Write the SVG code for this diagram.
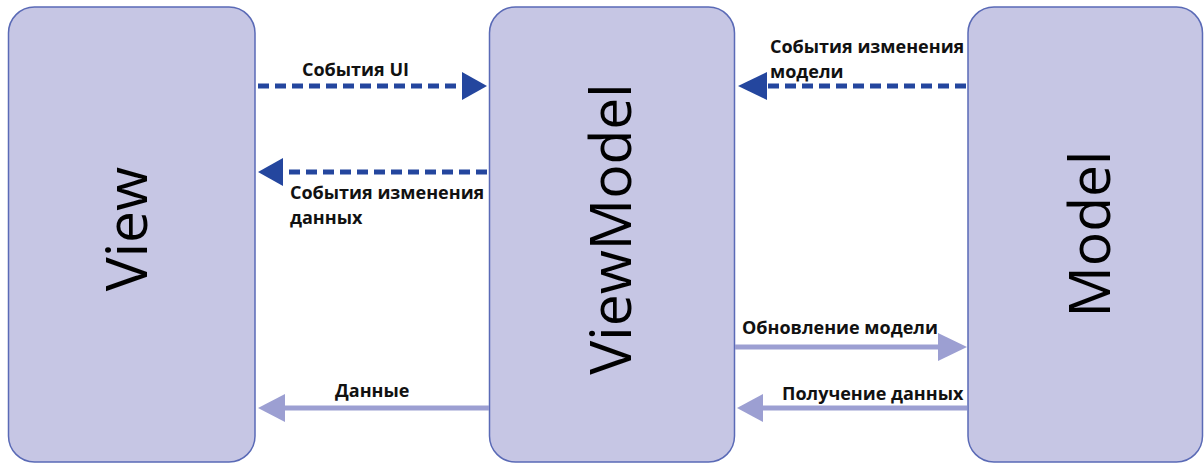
<svg xmlns="http://www.w3.org/2000/svg" width="1204" height="463" viewBox="0 0 1204 463">
  <style>
    .box { fill: #c6c6e4; stroke: #5a6ab6; stroke-width: 1.5; }
    .title { font-family: "Open Sans", "DejaVu Sans", sans-serif; font-size: 57px; fill: #000; text-anchor: middle; }
    .lbl { font-family: "Open Sans", "DejaVu Sans", sans-serif; font-size: 18px; font-weight: bold; fill: #111; }
    .dash { stroke: #24469e; stroke-width: 5; fill: none; stroke-dasharray: 11 6; }
    .solid { stroke: #9c9fd2; stroke-width: 5; fill: none; }
    .hd { fill: #24469e; }
    .hl { fill: #9c9fd2; }
  </style>
  <rect width="1204" height="463" fill="#fff"/>
  <g id="view">
    <rect class="box" x="8.5" y="7" width="246.5" height="455" rx="26"/>
    <text class="title" transform="translate(147,229) rotate(-90)">View</text>
  </g>
  <g id="viewmodel">
    <rect class="box" x="489.5" y="7" width="245" height="455" rx="26"/>
    <text class="title" transform="translate(631,229) rotate(-90)">ViewModel</text>
  </g>
  <g id="model">
    <rect class="box" x="968" y="7" width="234.5" height="455" rx="26"/>
    <text class="title" transform="translate(1110,234) rotate(-90)">Model</text>
  </g>
  <g id="connectors">
    <line class="dash" x1="258" y1="86" x2="464" y2="86"/>
    <polygon class="hd" points="462,72 487,86 462,100"/>
    <text class="lbl" x="302" y="76">События UI</text>

    <line class="dash" x1="487" y1="172" x2="281" y2="172"/>
    <polygon class="hd" points="283,158 258,172 283,186"/>
    <text class="lbl" x="290" y="199">События изменения</text>
    <text class="lbl" x="290" y="224">данных</text>

    <line class="dash" x1="966" y1="86" x2="765" y2="86"/>
    <polygon class="hd" points="767,72 738,86 767,100"/>
    <text class="lbl" x="770" y="53">События изменения</text>
    <text class="lbl" x="770" y="78">модели</text>

    <line class="solid" x1="735" y1="347" x2="940" y2="347"/>
    <polygon class="hl" points="938,333 967,347 938,361"/>
    <text class="lbl" x="742" y="334">Обновление модели</text>

    <line class="solid" x1="967" y1="408" x2="761" y2="408"/>
    <polygon class="hl" points="763,394 737,408 763,422"/>
    <text class="lbl" x="782" y="400">Получение данных</text>

    <line class="solid" x1="489" y1="408" x2="283" y2="408"/>
    <polygon class="hl" points="285,394 258,408 285,422"/>
    <text class="lbl" x="335" y="397">Данные</text>
  </g>
</svg>
